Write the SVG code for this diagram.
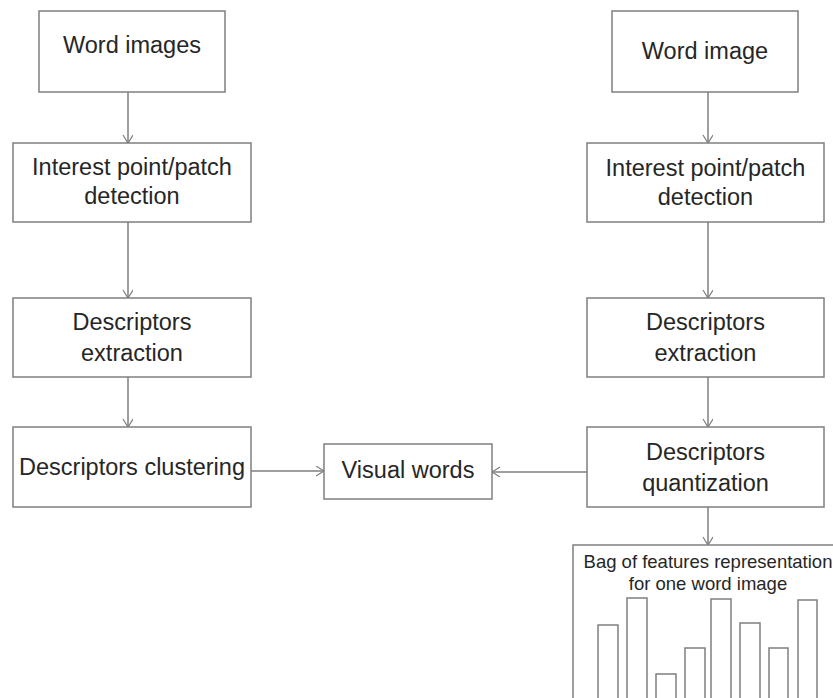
<svg xmlns="http://www.w3.org/2000/svg" width="833" height="698" viewBox="0 0 833 698">
<style>
.box{fill:#fff;stroke:#7f7f7f;stroke-width:1.5}
.bar{fill:#fff;stroke:#7f7f7f;stroke-width:1.5}
.t{font-family:"Liberation Sans",Arial,sans-serif;font-size:23.5px;fill:#262626;text-anchor:middle}
.s{font-family:"Liberation Sans",Arial,sans-serif;font-size:18.5px;fill:#262626;text-anchor:middle}
.c{stroke:#7f7f7f;stroke-width:1.5;fill:none;marker-end:url(#a)}
</style>
<defs>
<marker id="a" markerWidth="12" markerHeight="12" refX="9" refY="5" orient="auto" markerUnits="userSpaceOnUse">
<path d="M1,0 L9,5 L1,10" fill="none" stroke="#7f7f7f" stroke-width="1.2"/>
</marker>
</defs>
<rect width="833" height="698" fill="#fff"/>
<g id="connectors">
<line class="c" x1="128" y1="92" x2="128" y2="143"/>
<line class="c" x1="128" y1="222" x2="128" y2="298"/>
<line class="c" x1="128" y1="377" x2="128" y2="427"/>
<line class="c" x1="251" y1="471" x2="324" y2="471"/>
<line class="c" x1="708" y1="92" x2="708" y2="143"/>
<line class="c" x1="708" y1="222" x2="708" y2="298"/>
<line class="c" x1="708" y1="377" x2="708" y2="427"/>
<line class="c" x1="587" y1="472" x2="492" y2="472"/>
<line class="c" x1="708" y1="507" x2="708" y2="545"/>
</g>
<g id="word-images">
<rect class="box" x="39" y="11" width="186" height="81"/>
<text class="t" x="132" y="53">Word images</text>
</g>
<g id="interest-left">
<rect class="box" x="13" y="143" width="238" height="79"/>
<text class="t" x="132" y="175">Interest point/patch</text>
<text class="t" x="132" y="204">detection</text>
</g>
<g id="extraction-left">
<rect class="box" x="13" y="298" width="238" height="79"/>
<text class="t" x="132" y="330">Descriptors</text>
<text class="t" x="132" y="361">extraction</text>
</g>
<g id="clustering">
<rect class="box" x="13" y="427" width="238" height="80"/>
<text class="t" x="132" y="475">Descriptors clustering</text>
</g>
<g id="visual-words">
<rect class="box" x="324" y="444" width="168" height="55"/>
<text class="t" x="408" y="478">Visual words</text>
</g>
<g id="word-image">
<rect class="box" x="612" y="11" width="186" height="81"/>
<text class="t" x="705" y="59">Word image</text>
</g>
<g id="interest-right">
<rect class="box" x="587" y="143" width="237" height="79"/>
<text class="t" x="705.5" y="176">Interest point/patch</text>
<text class="t" x="705.5" y="205">detection</text>
</g>
<g id="extraction-right">
<rect class="box" x="587" y="298" width="237" height="79"/>
<text class="t" x="705.5" y="330">Descriptors</text>
<text class="t" x="705.5" y="361">extraction</text>
</g>
<g id="quantization">
<rect class="box" x="587" y="427" width="237" height="80"/>
<text class="t" x="705.5" y="460">Descriptors</text>
<text class="t" x="705.5" y="491">quantization</text>
</g>
<g id="bag-of-features">
<rect class="box" x="573" y="545" width="300" height="200"/>
<text class="s" x="708" y="568">Bag of features representation</text>
<text class="s" x="708" y="590">for one word image</text>
<rect class="bar" x="598" y="625" width="20" height="90"/>
<rect class="bar" x="627" y="598" width="20" height="120"/>
<rect class="bar" x="656" y="674" width="20" height="40"/>
<rect class="bar" x="685" y="648" width="20" height="70"/>
<rect class="bar" x="711" y="599" width="20" height="120"/>
<rect class="bar" x="740" y="623" width="20" height="90"/>
<rect class="bar" x="769" y="648" width="19" height="70"/>
<rect class="bar" x="798" y="600" width="19" height="120"/>
</g>
</svg>
